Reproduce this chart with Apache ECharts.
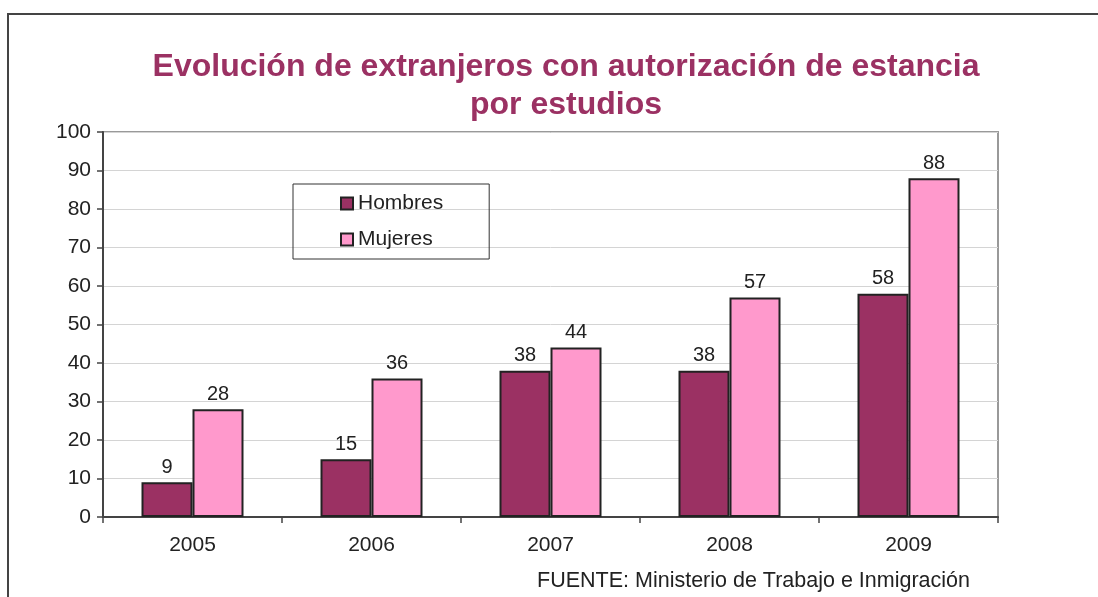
<!DOCTYPE html>
<html>
<head>
<meta charset="utf-8">
<script src="https://cdn.jsdelivr.net/npm/echarts@6/dist/echarts.min.js"></script>
<style>
  html, body { margin: 0; padding: 0; background: #fff; }
  #chart { width: 1098px; height: 597px; }
</style>
</head>
<body>
<div id="chart"></div>
<script>
// datos
var years = ['2005', '2006', '2007', '2008', '2009'];
var hombres = [9, 15, 38, 38, 58];
var mujeres = [28, 36, 44, 57, 88];
var yTicks = [0, 100, 10]; // min, max, intervalo

var font = 'Liberation Sans, Arial, sans-serif';
var chart = echarts.init(document.getElementById('chart'));

var option = {
    animation: false,
    textStyle: { fontFamily: font },
    title: [{
        text: 'Evolución de extranjeros con autorización de estancia\npor estudios',
        left: 561,
        top: 43,
        textAlign: 'center',
        textStyle: {
            color: '#9B3163',
            fontSize: 32,
            fontWeight: 'bold',
            lineHeight: 38,
            fontFamily: font
        }
    }, {
        text: 'FUENTE: Ministerio de Trabajo e Inmigración',
        right: 123,
        top: 565,
        textStyle: { color: '#222', fontSize: 21.5, fontWeight: 'normal', fontFamily: font }
    }],
    legend: {
        orient: 'vertical',
        left: 293,
        top: 184,
        padding: [9, 46, 9, 47],
        itemGap: 15,
        itemWidth: 12,
        itemHeight: 12,
        icon: 'rect',
        borderColor: '#333',
        borderWidth: 1,
        textStyle: { color: '#222', fontSize: 21 },
        data: ['Hombres', 'Mujeres']
    },
    graphic: [{
        type: 'polyline',
        shape: { points: [[8, 597], [8, 14], [1098, 14]] },
        style: { stroke: '#444', lineWidth: 2, fill: null }
    }],
    grid: {
        left: 103,
        right: 100,
        top: 132,
        bottom: 80,
        show: true,
        borderColor: '#999',
        borderWidth: 2
    },
    xAxis: {
        type: 'category',
        data: years,
        axisLine: { lineStyle: { color: '#444', width: 2 } },
        axisTick: { show: true, length: 6, lineStyle: { color: '#444', width: 1.5 } },
        axisLabel: { color: '#222', fontSize: 21, margin: 18 }
    },
    yAxis: {
        type: 'value',
        min: yTicks[0],
        max: yTicks[1],
        interval: yTicks[2],
        axisLine: { show: true, lineStyle: { color: '#444', width: 2 } },
        axisTick: { show: true, length: 6, lineStyle: { color: '#444', width: 1.5 } },
        axisLabel: { color: '#222', fontSize: 21, margin: 12 },
        splitLine: { lineStyle: { color: '#d4d4d4', width: 1 } }
    },
    series: [{
        name: 'Hombres',
        type: 'bar',
        barWidth: 51,
        barGap: '0%',
        data: hombres,
        itemStyle: { color: '#9B3163', borderColor: '#222', borderWidth: 2 },
        label: { show: true, position: 'top', color: '#222', fontSize: 20, distance: 5 }
    }, {
        name: 'Mujeres',
        type: 'bar',
        barWidth: 51,
        barGap: '0%',
        data: mujeres,
        itemStyle: { color: '#FF99CC', borderColor: '#222', borderWidth: 2 },
        label: { show: true, position: 'top', color: '#222', fontSize: 20, distance: 5 }
    }]
};
chart.setOption(option, true);
</script>
</body>
</html>
